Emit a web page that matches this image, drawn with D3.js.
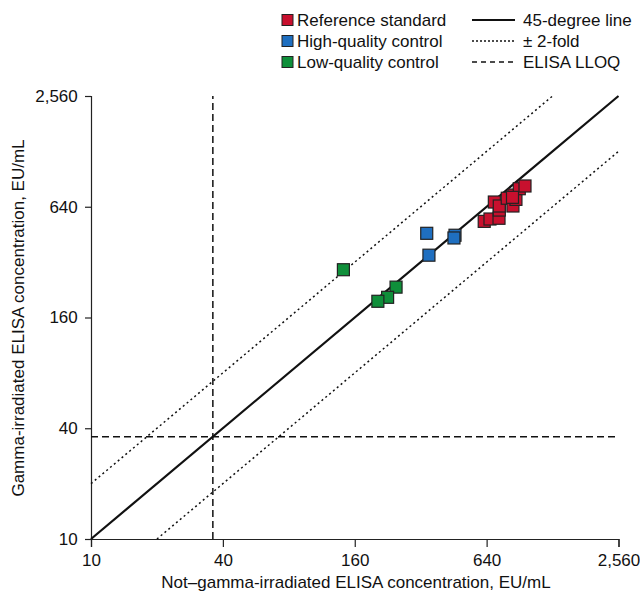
<!DOCTYPE html>
<html><head><meta charset="utf-8">
<script src="https://cdn.jsdelivr.net/npm/d3@7"></script>
<style>body{margin:0;background:#fff}svg{display:block;font-family:"Liberation Sans",Arial,sans-serif}</style>
</head><body><svg id="c" width="640" height="598"></svg>
<script>
const tickValues = [10, 40, 160, 640, 2560];
const lloq = 36;
const refX = [624, 663, 729, 731, 694, 731, 795, 844, 853, 871, 902, 958, 840];
const refY = [533, 549, 554, 614, 679, 646, 712, 646, 741, 702, 802, 830, 720];
const hiX = [341, 349, 459, 454];
const hiY = [459, 349, 448, 433];
const loX = [142, 247, 226, 204];
const loY = [291, 234, 206, 196];
const seriesNames = ["Reference standard", "High-quality control", "Low-quality control"];
const seriesColors = ["#c8102e", "#1f6fc0", "#0f8f3a"];
const lineNames = ["45-degree line", "± 2-fold", "ELISA LLOQ"];

const svg = d3.select("#c");
const x = d3.scaleLog().base(2).domain([10, 2560]).range([91, 618.5]);
const y = d3.scaleLog().base(2).domain([10, 2560]).range([539, 96]);
const fmt = d3.format(",");

// axes
const xa = svg.append("g").attr("transform", "translate(0,539)")
  .call(d3.axisBottom(x).tickValues(tickValues).tickFormat(fmt).tickSizeOuter(0).tickSize(8));
const ya = svg.append("g").attr("transform", "translate(91,0)")
  .call(d3.axisLeft(y).tickValues(tickValues).tickFormat(fmt).tickSizeOuter(0).tickSize(6));
[xa, ya].forEach(a => {
  a.selectAll("path,line").attr("stroke", "#222").attr("stroke-width", 1.2);
  a.selectAll("text").attr("font-size", 17).attr("fill", "#111").attr("font-family", "Liberation Sans, Arial, sans-serif");
});
xa.selectAll("text").attr("dy", "0.95em");
ya.selectAll("text").attr("dx", "-0.25em");

const line = d3.line().x(d => x(d[0])).y(d => y(d[1]));
const g = svg.append("g");
// LLOQ lines
g.append("path").attr("d", line([[lloq, 10], [lloq, 2560]])).attr("stroke", "#111").attr("stroke-width", 1.5).attr("stroke-dasharray", "7,4").attr("fill", "none");
g.append("path").attr("d", line([[10, lloq], [2560, lloq]])).attr("stroke", "#111").attr("stroke-width", 1.5).attr("stroke-dasharray", "7,4").attr("fill", "none");
// 2-fold lines
g.append("path").attr("d", line([[10, 20], [1280, 2560]])).attr("stroke", "#111").attr("stroke-width", 1.5).attr("stroke-dasharray", "2,3").attr("fill", "none");
g.append("path").attr("d", line([[20, 10], [2560, 1280]])).attr("stroke", "#111").attr("stroke-width", 1.5).attr("stroke-dasharray", "2,3").attr("fill", "none");
// 45 line
g.append("path").attr("d", line([[10, 10], [2560, 2560]])).attr("stroke", "#111").attr("stroke-width", 2.2).attr("fill", "none");

const s = 12;
function pts(xs, ys, color) {
  const data = xs.map((v, i) => [v, ys[i]]);
  svg.append("g").selectAll("rect").data(data).join("rect")
    .attr("x", d => x(d[0]) - s / 2).attr("y", d => y(d[1]) - s / 2)
    .attr("width", s).attr("height", s)
    .attr("fill", color).attr("stroke", "#222").attr("stroke-width", 1.2);
}
pts(loX, loY, seriesColors[2]);
pts(hiX, hiY, seriesColors[1]);
pts(refX, refY, seriesColors[0]);

// legend
const leg = svg.append("g");
seriesNames.forEach((n, i) => {
  const cy = 20 + i * 21;
  leg.append("rect").attr("x", 282).attr("y", cy - 5.5).attr("width", 11).attr("height", 11)
    .attr("fill", seriesColors[i]).attr("stroke", "#222").attr("stroke-width", 1);
  leg.append("text").attr("x", 297).attr("y", cy).attr("dy", "0.36em").attr("font-size", 17).attr("fill", "#111").text(n);
});
const dashes = [null, "2,2", "5,4"];
lineNames.forEach((n, i) => {
  const cy = 20 + i * 21;
  const l = leg.append("line").attr("x1", 472).attr("x2", 515).attr("y1", cy).attr("y2", cy)
    .attr("stroke", "#111").attr("stroke-width", i === 0 ? 1.8 : 1.3);
  if (dashes[i]) l.attr("stroke-dasharray", dashes[i]);
  leg.append("text").attr("x", 523).attr("y", cy).attr("dy", "0.36em").attr("font-size", 17).attr("fill", "#111").text(n);
});

// axis titles
svg.append("text").attr("x", 356).attr("y", 588).attr("text-anchor", "middle").attr("font-size", 17).attr("fill", "#111")
  .text("Not\u2013gamma-irradiated ELISA concentration, EU/mL");
svg.append("text").attr("transform", "translate(24,318) rotate(-90)").attr("text-anchor", "middle").attr("font-size", 17).attr("fill", "#111")
  .text("Gamma-irradiated ELISA concentration, EU/mL");
</script></body></html>
